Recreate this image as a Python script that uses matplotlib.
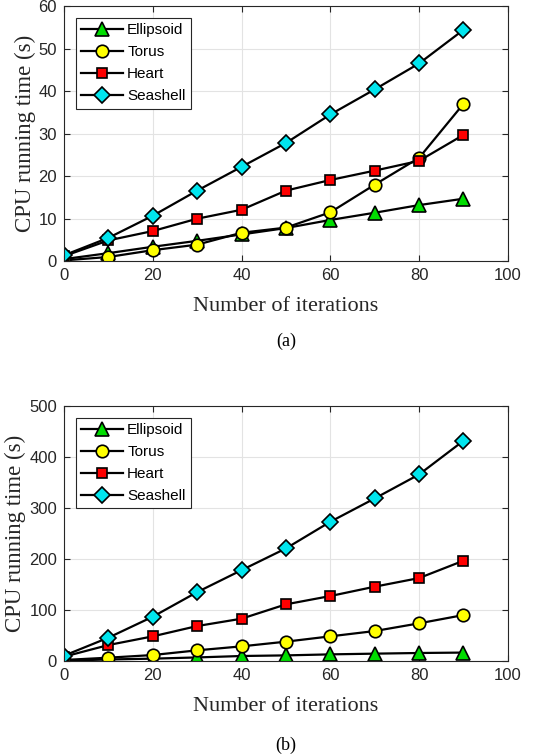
import numpy as np
import matplotlib.pyplot as plt

iterations = [0, 10, 20, 30, 40, 50, 60, 70, 80, 90]

# panel (a)
ellipsoid_a = [0.5, 1.9, 3.4, 4.8, 6.3, 7.8, 9.7, 11.4, 13.2, 14.7]
torus_a = [0.2, 1.0, 2.6, 3.9, 6.7, 7.9, 11.5, 18.0, 24.3, 37.0]
heart_a = [1.2, 4.9, 7.1, 10.0, 12.1, 16.6, 19.1, 21.3, 23.6, 29.7]
seashell_a = [1.4, 5.5, 10.7, 16.6, 22.2, 27.8, 34.5, 40.4, 46.5, 54.4]

# panel (b)
ellipsoid_b = [0.7, 3.0, 4.6, 7.0, 9.8, 11.0, 13.0, 14.4, 15.7, 16.5]
torus_b = [2.0, 6.5, 11.7, 20.9, 28.7, 37.9, 48.3, 58.7, 73.8, 90.0]
heart_b = [8.5, 31.3, 48.3, 68.5, 82.9, 111.0, 127.3, 145.6, 162.5, 196.5]
seashell_b = [10.4, 45.7, 86.8, 135.0, 178.0, 220.6, 272.8, 318.5, 365.5, 431.5]

names = ["Ellipsoid", "Torus", "Heart", "Seashell"]
markers = ["^", "o", "s", "D"]
faces = ["#00dd00", "#ffff00", "#ff0000", "#00e5ee"]
sizes = [10, 9, 7.5, 8]

txt = "#262626"
plt.rcParams["font.family"] = ["Liberation Sans", "DejaVu Sans"]

fig = plt.figure(figsize=(5.52, 7.55), dpi=100)
ax_a = fig.add_axes([0.116, 0.654, 0.804, 0.338])
ax_b = fig.add_axes([0.116, 0.1245, 0.804, 0.338])


def draw(ax, series, ymax, ystep, caption, cap_y):
    for vals, name, m, fc, ms in zip(series, names, markers, faces, sizes):
        ax.plot(iterations, vals, color="black", lw=1.6, marker=m, ms=ms,
                mfc=fc, mec="black", mew=1.2, label=name)
    ax.set_xlim(0, 100)
    ax.set_ylim(0, ymax)
    ax.set_xticks(np.arange(0, 101, 20))
    ax.set_yticks(np.arange(0, ymax + 1, ystep))
    ax.grid(True, color="#e3e3e3", lw=0.8)
    ax.set_axisbelow(True)
    ax.tick_params(direction="in", top=True, right=True, labelsize=12,
                   colors=txt, length=4, width=0.8, pad=5)
    for s in ax.spines.values():
        s.set_color(txt)
        s.set_linewidth(0.8)
    ax.set_xlabel("Number of iterations", family="Liberation Serif",
                  fontsize=16, color=txt, labelpad=10)
    ax.set_ylabel("CPU running time (s)", family="Liberation Serif",
                  fontsize=16.5, color=txt, labelpad=2)
    leg = ax.legend(loc="upper left", fontsize=11, fancybox=False,
                    edgecolor=txt, framealpha=1, handlelength=2.7,
                    handletextpad=0.3, borderpad=0.35, labelspacing=0.52,
                    borderaxespad=0, bbox_to_anchor=(0.027, 0.953))
    leg.get_frame().set_linewidth(0.8)
    ax.text(0.5, cap_y, caption, transform=ax.transAxes, ha="center",
            va="center", family="Liberation Serif", fontsize=13, color="black")


draw(ax_a, [ellipsoid_a, torus_a, heart_a, seashell_a], 60, 10, "(a)", -0.315)
draw(ax_b, [ellipsoid_b, torus_b, heart_b, seashell_b], 500, 100, "(b)", -0.33)

fig.savefig("out.png", dpi=100)
